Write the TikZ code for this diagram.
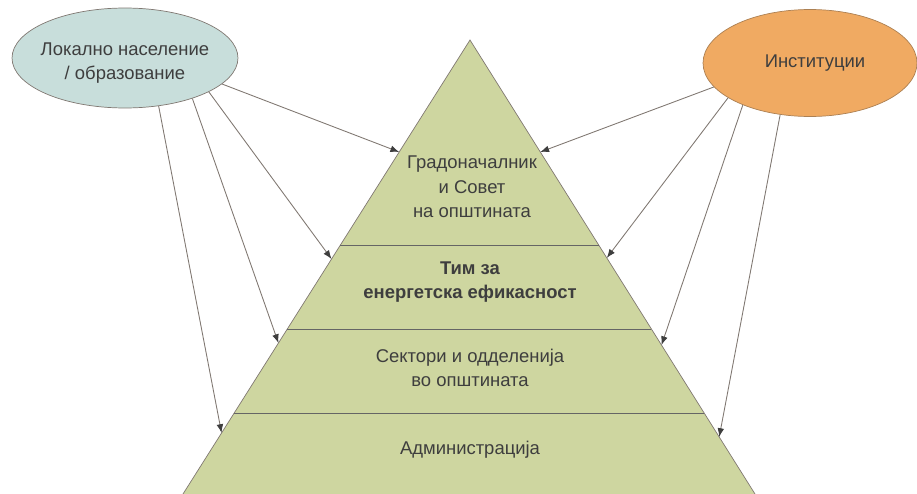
\documentclass[tikz,border=0pt]{standalone}
\usepackage{fontspec}
\setmainfont{Liberation Sans}
\usetikzlibrary{shapes.geometric,arrows.meta,calc}
\definecolor{pyrgreen}{RGB}{206,214,160}
\definecolor{ovalblue}{RGB}{200,222,219}
\definecolor{ovalorange}{RGB}{240,170,98}
\definecolor{txtgray}{RGB}{62,62,62}
\definecolor{linegray}{RGB}{128,120,114}

\begin{document}
\begin{tikzpicture}[x=0.02cm,y=-0.02cm,
  oval/.style={ellipse,draw=linegray,line width=0.4pt,inner sep=0pt,align=center,text=txtgray,font=\fontsize{10.5}{14}\selectfont},
  lbl/.style={align=center,text=txtgray,font=\fontsize{10.5}{14}\selectfont},
  pfeil/.style={draw=linegray,line width=0.5pt,-{Latex[length=5pt,width=3.8pt,color=txtgray]}}]
\useasboundingbox (0,0) rectangle (917,494);
% pyramid
\coordinate (top) at (470,40);
\coordinate (bl) at (183,494);
\coordinate (br) at (755,494);
\begin{scope}
\clip (0,0) rectangle (917,494);
\filldraw[fill=pyrgreen,draw=linegray,line width=0.4pt] (top) -- ($(top)!1.1!(bl)$) -- ($(top)!1.1!(br)$) -- cycle;
\end{scope}
\draw[txtgray!80,line width=0.5pt] ($(top)!0.4515!(bl)$) -- ($(top)!0.4515!(br)$);
\draw[txtgray!80,line width=0.5pt] ($(top)!0.6366!(bl)$) -- ($(top)!0.6366!(br)$);
\draw[txtgray!80,line width=0.5pt] ($(top)!0.8216!(bl)$) -- ($(top)!0.8216!(br)$);
\node[lbl] (grad) at (472,187) {Градоначалник\\и Совет\\на општината};
\node[lbl,font=\fontsize{10.5}{14}\selectfont\bfseries] (tim) at (470,282) {Тим за\\енергетска ефикасност};
\node[lbl] (sek) at (470,368) {Сектори и одделенија\\во општината};
\node[lbl] (adm) at (470,450) {Администрација};
% ovals
\node[oval,fill=ovalblue,minimum width=4.52cm,minimum height=2cm] (lok) at (125,58) {};
\node[lbl] (loktxt) at ([yshift=-0.1cm]lok.center) {Локално население\\/ образование};
\node[oval,fill=ovalorange,draw=brown!70!gray,minimum width=4.28cm,minimum height=2.14cm] (inst) at (810,63) {};
\node[lbl] (insttxt) at ([xshift=0.1cm]inst.center) {Институции};
% arrows left
\coordinate (l1) at ($(top)!0.2467!(bl)$);
\coordinate (l2) at ($(top)!0.4824!(bl)$);
\coordinate (l3) at ($(top)!0.6674!(bl)$);
\coordinate (l4) at ($(top)!0.8656!(bl)$);
\draw[pfeil] (lok.-15) -- (l1);
\draw[pfeil] (lok.-22) -- (l2);
\draw[pfeil] (lok.-31.5) -- (l3);
\draw[pfeil] (lok.-55.5) -- (l4);
% arrows right
\coordinate (r1) at ($(top)!0.2467!(br)$);
\coordinate (r2) at ($(top)!0.4800!(br)$);
\coordinate (r3) at ($(top)!0.6720!(br)$);
\coordinate (r4) at ($(top)!0.8744!(br)$);
\draw[pfeil] (inst.194.5) -- (r1);
\draw[pfeil] (inst.203) -- (r2);
\draw[pfeil] (inst.212.7) -- (r3);
\draw[pfeil] (inst.240) -- (r4);
\end{tikzpicture}
\end{document}
